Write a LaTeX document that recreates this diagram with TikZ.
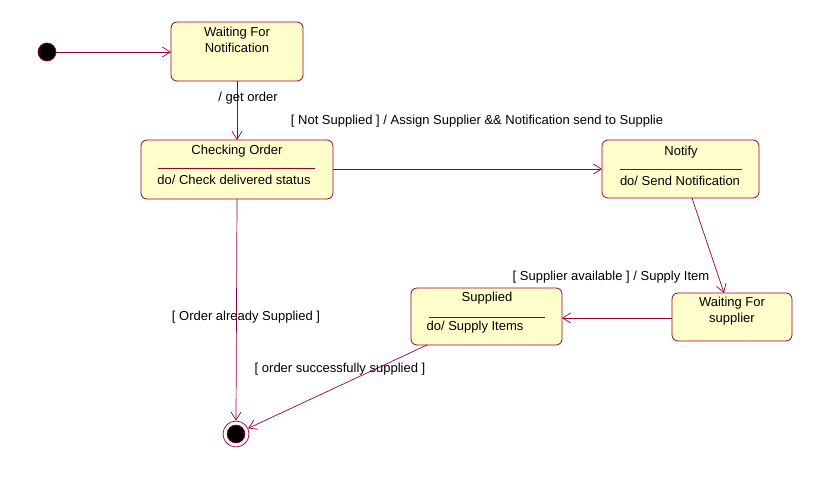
\documentclass[tikz,border=0pt]{standalone}
\usepackage{fontspec}
\setmainfont{Liberation Sans}
\usetikzlibrary{arrows.meta,calc}
\definecolor{umlred}{HTML}{990033}
\definecolor{umlfill}{HTML}{FFFFCC}
\begin{document}
\begin{tikzpicture}[x=1pt,y=-1pt,
  every node/.style={font=\fontsize{13}{15}\selectfont},
  state/.style={draw=umlred,fill=umlfill,rounded corners=6pt,line width=0.8pt,anchor=north west,inner sep=0pt,outer sep=0pt},
  txt/.style={inner sep=0pt,text=black},
  lbl/.style={inner sep=0pt,text=black},
  arr/.style={draw=umlred,line width=0.7pt,-{Straight Barb[length=8pt,width=10pt,line width=0.7pt]}},
  sep/.style={draw=umlred,line width=0.7pt}]
\useasboundingbox (0,0) rectangle (831,489);
% initial
\node[circle,fill=black,draw=umlred,line width=0.7pt,minimum size=18pt,inner sep=0pt] (init) at (47,52) {};
% Waiting For Notification
\node[state,minimum width=132pt,minimum height=59pt] (wfn) at (171,22) {};
\node[txt] at (237,33) {Waiting For};
\node[txt] at (237,48) {Notification};
% Checking Order
\node[state,minimum width=192pt,minimum height=59pt] (chk) at (141,140) {};
\node[txt] (chkt) at (237,151) {Checking Order};
\draw[sep] (158,168) -- (315,168);
\node[txt] (chkd) at (234,180) {do/ Check delivered status};
% Notify
\node[state,minimum width=157pt,minimum height=58pt] (ntf) at (602,140) {};
\node[txt] at (681,152) {Notify};
\draw[sep] (620,169) -- (742,169);
\node[txt] at (680,181) {do/ Send Notification};
% Waiting For supplier
\node[state,minimum width=120pt,minimum height=48pt] (wfs) at (672,293) {};
\node[txt] at (732,303) {Waiting For};
\node[txt] at (732,319) {supplier};
% Supplied
\node[state,minimum width=151pt,minimum height=57pt] (sup) at (411,288) {};
\node[txt] at (487,298) {Supplied};
\draw[sep] (429,317) -- (545,317);
\node[txt] at (475,327) {do/ Supply Items};
% final
\node[circle,draw=umlred,line width=0.7pt,minimum size=26pt,inner sep=0pt] (fin) at (236,434) {};
\node[circle,fill=black,draw=umlred,line width=0.5pt,minimum size=18pt,inner sep=0pt] (fincore) at (236,434) {};
% transitions
\draw[arr] (init) -- (wfn.west |- init);
\draw[arr] (wfn.south) -- (chk.north);
\node[lbl] at (248,98) {/ get order};
\draw[arr] (chk.east |- 0,169) -- (ntf.west |- 0,169);
\node[lbl] at (477,121) {[ Not Supplied ] / Assign Supplier \&\& Notification send to Supplie};
\coordinate (n1) at ($(ntf.south west)+(90,0)$);
\coordinate (w1) at ($(wfs.north west)+(52,0)$);
\draw[arr] (n1) -- (w1);
\node[lbl] at (611,277) {[ Supplier available ] / Supply Item};
\draw[arr] (wfs.west |- 0,318) -- (sup.east |- 0,318);
\coordinate (c1) at (237,199);
\draw[arr] (c1) -- (fin.north);
\node[lbl] at (246,317) {[ Order already Supplied ]};
\coordinate (s1) at ($(sup.south west)+(16,0)$);
\draw[arr] (s1) -- (fin);
\node[lbl] at (340,369) {[ order successfully supplied ]};
\end{tikzpicture}
\end{document}
